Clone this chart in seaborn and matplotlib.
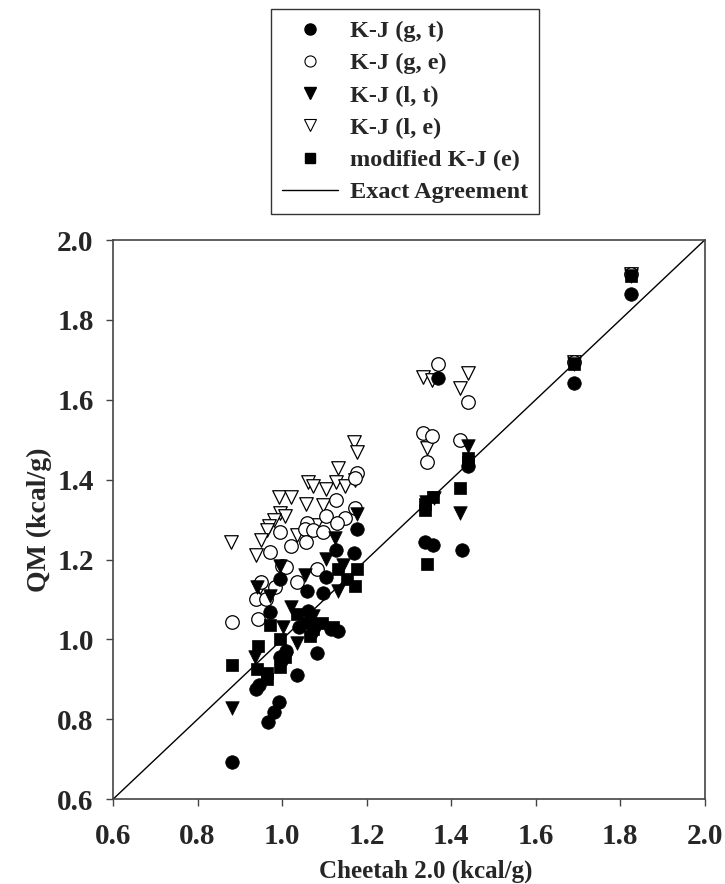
import matplotlib
matplotlib.use("Agg")
import matplotlib.pyplot as plt
import seaborn as sns
from matplotlib.lines import Line2D

sns.set_theme(style="white")
plt.rcParams['font.family'] = ['Liberation Serif', 'DejaVu Serif']
plt.rcParams['font.weight'] = 'bold'

# K-J (g, t)
gt_x = [1.825, 1.69, 1.37, 1.338, 1.357, 1.44, 1.425, 1.177, 1.127, 1.17, 0.995, 1.103, 1.058,
        1.097, 0.971, 1.061, 1.132, 1.082, 1.035, 0.938, 0.945, 0.992, 0.98, 0.966, 0.881,
        0.995, 1.01, 1.07, 1.04, 1.115]
gt_y = [1.865, 1.643, 1.655, 1.245, 1.237, 1.435, 1.225, 1.277, 1.225, 1.217, 1.15, 1.155, 1.12,
        1.117, 1.068, 1.07, 1.02, 0.967, 0.91, 0.877, 0.887, 0.842, 0.818, 0.793, 0.692,
        0.955, 0.97, 1.04, 1.03, 1.025]
# K-J (g, e)
ge_x = [1.825, 1.69, 1.368, 1.333, 1.354, 1.343, 1.44, 1.42, 1.177, 1.172, 1.127, 1.172, 1.104,
        1.149, 1.13, 1.06, 1.054, 1.073, 1.097, 0.995, 1.056, 1.02, 0.971, 0.999, 1.01, 1.082,
        1.035, 0.983, 0.95, 0.881, 0.943, 0.938, 0.962]
ge_y = [1.915, 1.695, 1.69, 1.517, 1.51, 1.443, 1.595, 1.50, 1.417, 1.405, 1.35, 1.33, 1.31,
        1.305, 1.292, 1.292, 1.277, 1.275, 1.268, 1.268, 1.243, 1.233, 1.22, 1.183, 1.18, 1.177,
        1.143, 1.13, 1.143, 1.043, 1.05, 1.10, 1.102]
# K-J (l, t)
lt_x = [1.825, 1.69, 1.44, 1.42, 1.34, 1.36, 1.177, 1.125, 1.103, 0.995, 1.054, 1.132, 1.144,
        0.94, 0.971, 1.02, 1.002, 0.936, 1.035, 0.881, 1.073, 1.08, 1.01]
lt_y = [1.91, 1.69, 1.485, 1.317, 1.345, 1.355, 1.315, 1.255, 1.202, 1.183, 1.162, 1.12, 1.187,
        1.13, 1.108, 1.08, 1.03, 0.955, 0.992, 0.828, 1.058, 1.02, 0.95]
# K-J (l, e)
le_x = [1.825, 1.69, 1.44, 1.42, 1.333, 1.354, 1.343, 1.17, 1.177, 1.132, 1.061, 1.073, 1.103,
        1.127, 1.148, 1.172, 0.992, 1.02, 1.056, 1.096, 0.995, 1.007, 0.98, 0.969, 0.964, 1.08,
        1.035, 0.879, 0.95, 0.938, 0.948]
le_y = [1.915, 1.695, 1.667, 1.63, 1.657, 1.65, 1.48, 1.495, 1.47, 1.43, 1.395, 1.385, 1.377,
        1.395, 1.385, 1.40, 1.357, 1.357, 1.34, 1.337, 1.317, 1.31, 1.30, 1.283, 1.275, 1.287,
        1.262, 1.243, 1.25, 1.212, 1.13]
# modified K-J (e)
mod_x = [1.825, 1.69, 1.44, 1.44, 1.42, 1.357, 1.338, 1.338, 1.343, 0.881, 0.943, 0.971, 0.94,
         0.964, 0.964, 0.995, 1.007, 0.995, 1.058, 1.073, 1.094, 1.12, 1.065, 1.132, 1.153,
         1.177, 1.172, 1.035]
mod_y = [1.91, 1.69, 1.455, 1.445, 1.378, 1.357, 1.34, 1.325, 1.19, 0.937, 0.983, 1.037, 0.925,
         0.917, 0.90, 0.932, 0.957, 1.0, 1.042, 1.025, 1.042, 1.032, 1.008, 1.175, 1.15,
         1.175, 1.133, 1.063]

labels = ["K-J (g, t)", "K-J (g, e)", "K-J (l, t)", "K-J (l, e)", "modified K-J (e)", "Exact Agreement"]
ticks = [0.6, 0.8, 1.0, 1.2, 1.4, 1.6, 1.8, 2.0]

fig = plt.figure(figsize=(7.25, 8.84), dpi=100)
ax = fig.add_axes([0.156, 0.096, 0.816, 0.6325])

S = 95
ax.plot([0.6, 2.0], [0.6, 2.0], color='black', lw=1.0, zorder=1)
sns.scatterplot(x=le_x, y=le_y, marker='v', s=S, facecolor='white', edgecolor='black', linewidth=0.9, ax=ax, zorder=2)
sns.scatterplot(x=ge_x, y=ge_y, marker='o', s=S, facecolor='white', edgecolor='black', linewidth=0.9, ax=ax, zorder=3)
sns.scatterplot(x=gt_x, y=gt_y, marker='o', s=S, color='black', edgecolor='black', linewidth=0.5, ax=ax, zorder=4)
sns.scatterplot(x=lt_x, y=lt_y, marker='v', s=S, color='black', edgecolor='black', linewidth=0.5, ax=ax, zorder=5)
sns.scatterplot(x=mod_x, y=mod_y, marker='s', s=S * 0.85, color='black', edgecolor='black', linewidth=0.5, ax=ax, zorder=6)

ax.set_xlim(0.6, 2.0)
ax.set_ylim(0.6, 2.0)
ax.set_xticks(ticks)
ax.set_yticks(ticks)
ax.set_xticklabels([f"{t:.1f}" for t in ticks], fontsize=21, fontweight='bold')
ax.set_yticklabels([f"{t:.1f}" for t in ticks], fontsize=21, fontweight='bold')
ax.tick_params(axis='both', which='both', direction='out', length=5, width=1, color='#444444',
               bottom=True, left=True, top=False, right=False)
ax.tick_params(axis='x', pad=12)
ax.tick_params(axis='y', pad=9)
for sp in ax.spines.values():
    sp.set_color('#444444')
    sp.set_linewidth(1.2)
ax.set_xlabel("Cheetah 2.0 (kcal/g)", fontsize=18, fontweight='bold')
ax.xaxis.set_label_coords(0.529, -0.108)
ax.set_ylabel("QM (kcal/g)", fontsize=20, fontweight='bold')
ax.yaxis.set_label_coords(-0.103, 0.50)

handles = [
    Line2D([], [], marker='o', ls='none', color='black', markersize=8),
    Line2D([], [], marker='o', ls='none', markerfacecolor='white', markeredgecolor='black', markersize=8, markeredgewidth=0.8),
    Line2D([], [], marker='v', ls='none', color='black', markersize=8),
    Line2D([], [], marker='v', ls='none', markerfacecolor='white', markeredgecolor='black', markersize=8, markeredgewidth=0.8),
    Line2D([], [], marker='s', ls='none', color='black', markersize=7),
    Line2D([], [], color='black', lw=1),
]
leg = fig.legend(handles, labels, loc='upper center', bbox_to_anchor=(0.559, 0.995),
                 prop={'family': 'Liberation Serif', 'weight': 'bold', 'size': 17.5},
                 frameon=True, fancybox=False, edgecolor='black', handlelength=2.3,
                 labelspacing=0.42, borderpad=0.45, handletextpad=0.5, borderaxespad=0.2)
leg.get_frame().set_linewidth(1.0)

fig.savefig("out.png", dpi=100)
